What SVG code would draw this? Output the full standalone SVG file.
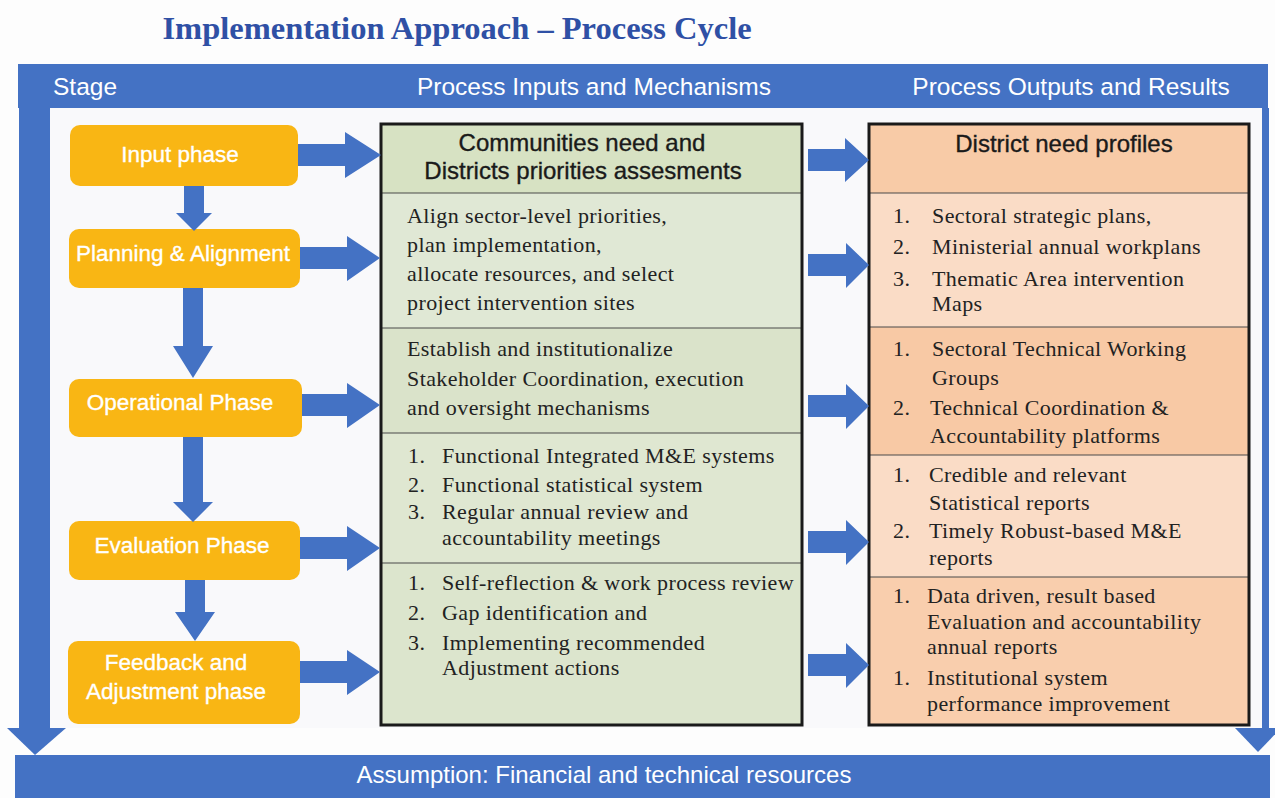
<svg xmlns="http://www.w3.org/2000/svg" width="1275" height="798" viewBox="0 0 1275 798">
<style>
.blue{fill:#4472C4}
.arrow{fill:#4472C4}
.stage{fill:#F9B614}
.stxt{font-family:"Liberation Sans",Arial,sans-serif;font-size:22.5px;fill:#ffffff;stroke:#ffffff;stroke-width:0.35;text-anchor:middle}
.hdr{font-family:"Liberation Sans",Arial,sans-serif;font-size:24.5px;fill:#ffffff}
.ser{font-family:"Liberation Serif","Times New Roman",serif;font-size:22px;fill:#222222;letter-spacing:0.4px}
.colhd{font-family:"Liberation Sans",Arial,sans-serif;font-size:24px;fill:#1a1a1a;stroke:#1a1a1a;stroke-width:0.35;text-anchor:middle}
.div{stroke:#4a4a4a;stroke-width:1.2}
.outer{fill:none;stroke:#1a1a1a;stroke-width:3}
</style>
<rect x="0" y="0" width="1275" height="798" fill="#FDFDFD"/>
<text x="457" y="39" text-anchor="middle" font-family="'Liberation Serif','Times New Roman',serif" font-size="32.5" font-weight="bold" fill="#2F50A5">Implementation Approach – Process Cycle</text>

<g id="frame">
<rect x="50" y="108" width="1212" height="620" fill="#F9F9FB"/>
<rect class="blue" x="18" y="64" width="1250" height="44"/>
<rect class="blue" x="19" y="108" width="31" height="620"/>
<polygon class="blue" points="7,728 66,728 35,755"/>
<rect class="blue" x="1262" y="108" width="7" height="620"/>
<polygon class="blue" points="1235,728 1281,728 1258,752"/>
<text class="hdr" x="53" y="95">Stage</text>
<text class="hdr" x="594" y="95" text-anchor="middle">Process Inputs and Mechanisms</text>
<text class="hdr" x="1071" y="95" text-anchor="middle">Process Outputs and Results</text>
</g>

<g id="assumption">
<rect class="blue" x="15" y="755" width="1255" height="43"/>
<text x="604" y="783" text-anchor="middle" font-family="'Liberation Sans',Arial,sans-serif" font-size="24" fill="#ffffff">Assumption: Financial and technical resources</text>
</g>

<g id="stage-input">
<rect class="stage" x="70" y="125" width="228" height="61" rx="10"/>
<text class="stxt" x="180" y="162" font-size="24">Input phase</text>
</g>
<g id="stage-planning">
<rect class="stage" x="69" y="229" width="231" height="59" rx="10"/>
<text class="stxt" x="183" y="261">Planning &amp; Alignment</text>
</g>
<g id="stage-operational">
<rect class="stage" x="69" y="379" width="233" height="58" rx="10"/>
<text class="stxt" x="180" y="410">Operational Phase</text>
</g>
<g id="stage-evaluation">
<rect class="stage" x="69" y="521" width="231" height="59" rx="10"/>
<text class="stxt" x="182" y="553">Evaluation Phase</text>
</g>
<g id="stage-feedback">
<rect class="stage" x="68" y="641" width="232" height="83" rx="10"/>
<text class="stxt" x="176" y="670">Feedback and</text>
<text class="stxt" x="176" y="699">Adjustment phase</text>
</g>

<g id="inputs">
<rect x="381" y="124" width="421" height="601" fill="#DEE7D0"/>
<rect x="381" y="124" width="421" height="69" fill="#D7E2C3"/>
<rect x="381" y="193" width="421" height="135" fill="#E0E8D5"/>
<rect x="381" y="328" width="421" height="105" fill="#DAE3CA"/>
<rect x="381" y="433" width="421" height="130" fill="#DFE7D1"/>
<rect x="381" y="563" width="421" height="162" fill="#DCE5CD"/>
<line class="div" x1="381" y1="193" x2="802" y2="193"/>
<line class="div" x1="381" y1="328" x2="802" y2="328"/>
<line class="div" x1="381" y1="433" x2="802" y2="433"/>
<line class="div" x1="381" y1="563" x2="802" y2="563"/>
<rect class="outer" x="381" y="124" width="421" height="601"/>
<text class="colhd" x="582" y="151">Communities need and</text>
<text class="colhd" x="583" y="179">Districts priorities assesments</text>
<text class="ser" x="407" y="223">Align sector-level priorities,</text>
<text class="ser" x="407" y="252">plan implementation,</text>
<text class="ser" x="407" y="281">allocate resources, and select</text>
<text class="ser" x="407" y="310">project intervention sites</text>
<text class="ser" x="407" y="356">Establish and institutionalize</text>
<text class="ser" x="407" y="386">Stakeholder Coordination, execution</text>
<text class="ser" x="407" y="415">and oversight mechanisms</text>
<text class="ser" x="408" y="463">1.</text><text class="ser" x="442" y="463">Functional Integrated M&amp;E systems</text>
<text class="ser" x="408" y="492">2.</text><text class="ser" x="442" y="492">Functional statistical system</text>
<text class="ser" x="408" y="519">3.</text><text class="ser" x="442" y="519">Regular annual review and</text>
<text class="ser" x="442" y="545">accountability meetings</text>
<text class="ser" x="408" y="590">1.</text><text class="ser" x="442" y="590">Self-reflection &amp; work process review</text>
<text class="ser" x="408" y="620">2.</text><text class="ser" x="442" y="620">Gap identification and</text>
<text class="ser" x="408" y="650">3.</text><text class="ser" x="442" y="650">Implementing recommended</text>
<text class="ser" x="442" y="675">Adjustment actions</text>
</g>

<g id="outputs">
<rect x="869" y="124" width="380" height="69" fill="#F8CBA7"/>
<rect x="869" y="193" width="380" height="134" fill="#FADCC6"/>
<rect x="869" y="327" width="380" height="128" fill="#F8C9A5"/>
<rect x="869" y="455" width="380" height="122" fill="#FADCC6"/>
<rect x="869" y="577" width="380" height="148" fill="#F9CEAD"/>
<line class="div" x1="869" y1="193" x2="1249" y2="193"/>
<line class="div" x1="869" y1="327" x2="1249" y2="327"/>
<line class="div" x1="869" y1="455" x2="1249" y2="455"/>
<line class="div" x1="869" y1="577" x2="1249" y2="577"/>
<rect class="outer" x="869" y="124" width="380" height="601"/>
<text class="colhd" x="1064" y="152">District need profiles</text>
<text class="ser" x="893" y="223">1.</text><text class="ser" x="932" y="223">Sectoral strategic plans,</text>
<text class="ser" x="893" y="254">2.</text><text class="ser" x="932" y="254">Ministerial annual workplans</text>
<text class="ser" x="893" y="286">3.</text><text class="ser" x="932" y="286">Thematic Area intervention</text>
<text class="ser" x="932" y="311">Maps</text>
<text class="ser" x="893" y="356">1.</text><text class="ser" x="932" y="356">Sectoral Technical Working</text>
<text class="ser" x="932" y="385">Groups</text>
<text class="ser" x="893" y="415">2.</text><text class="ser" x="930" y="415">Technical Coordination &amp;</text>
<text class="ser" x="930" y="443">Accountability platforms</text>
<text class="ser" x="893" y="482">1.</text><text class="ser" x="929" y="482">Credible and relevant</text>
<text class="ser" x="929" y="510">Statistical reports</text>
<text class="ser" x="893" y="538">2.</text><text class="ser" x="929" y="538">Timely Robust-based M&amp;E</text>
<text class="ser" x="929" y="565">reports</text>
<text class="ser" x="893" y="603">1.</text><text class="ser" x="927" y="603">Data driven, result based</text>
<text class="ser" x="927" y="629">Evaluation and accountability</text>
<text class="ser" x="927" y="654">annual reports</text>
<text class="ser" x="893" y="685">1.</text><text class="ser" x="927" y="685">Institutional system</text>
<text class="ser" x="927" y="711">performance improvement</text>
</g>

<g id="connectors">
<polygon class="arrow" points="184,186 204,186 204,213 212,213 194,231 176,213 184,213"/>
<polygon class="arrow" points="183,288 203,288 203,346 213,346 193,378 173,346 183,346"/>
<polygon class="arrow" points="183,437 203,437 203,502 213,502 193,522 173,502 183,502"/>
<polygon class="arrow" points="185,580 205,580 205,612 215,612 195,641 175,612 185,612"/>
<polygon class="arrow" points="298,144 345,144 345,132 381,155 345,178 345,166 298,166"/>
<polygon class="arrow" points="300,247 347,247 347,236 380,258 347,281 347,269 300,269"/>
<polygon class="arrow" points="302,394 347,394 347,383 380,405 347,428 347,416 302,416"/>
<polygon class="arrow" points="300,537 347,537 347,526 380,548 347,571 347,559 300,559"/>
<polygon class="arrow" points="300,661 347,661 347,650 380,672 347,695 347,683 300,683"/>
<polygon class="arrow" points="808,149 845,149 845,138 869,160 845,182 845,171 808,171"/>
<polygon class="arrow" points="808,254 846,254 846,243 869,265 846,288 846,276 808,276"/>
<polygon class="arrow" points="808,395 846,395 846,384 869,406 846,429 846,417 808,417"/>
<polygon class="arrow" points="808,531 846,531 846,520 869,542 846,565 846,553 808,553"/>
<polygon class="arrow" points="808,654 846,654 846,643 869,665 846,688 846,676 808,676"/>
</g>
</svg>
